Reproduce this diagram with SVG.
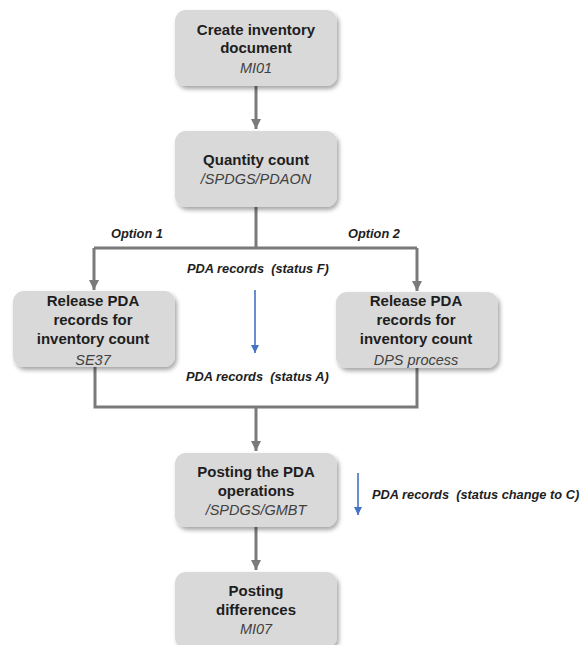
<svg xmlns="http://www.w3.org/2000/svg" width="584" height="645" viewBox="0 0 584 645">
<defs>
<style>
.box{fill:#d9d9d9;filter:url(#sh);}
.t{font-family:"Liberation Sans",Arial,sans-serif;font-size:15px;font-weight:bold;fill:#1e1e1e;text-anchor:middle;}
.s{font-family:"Liberation Sans",Arial,sans-serif;font-size:14.5px;font-style:italic;fill:#404040;text-anchor:middle;}
.l{font-family:"Liberation Sans",Arial,sans-serif;font-size:12.8px;font-weight:bold;font-style:italic;fill:#1e1e1e;}
.c{fill:none;stroke:#7a7a7a;stroke-width:3;}
</style>
<filter id="sh" x="-10%" y="-10%" width="125%" height="130%">
<feDropShadow dx="2" dy="3" stdDeviation="2" flood-color="#000" flood-opacity="0.35"/>
</filter>
<marker id="g" markerWidth="10" markerHeight="10" refX="10" refY="5" orient="auto" markerUnits="userSpaceOnUse">
<path d="M0,0 L10,5 L0,10 Z" fill="#7a7a7a"/>
</marker>
<marker id="bm" markerWidth="8" markerHeight="8" refX="8" refY="4" orient="auto" markerUnits="userSpaceOnUse">
<path d="M0,0 L8,4 L0,8 Z" fill="#4472c4"/>
</marker>
</defs>
<rect width="584" height="645" fill="#ffffff"/>

<g id="connectors">
<path class="c" d="M256,86 V129" marker-end="url(#g)"/>
<path class="c" d="M256,207 V248 M94,248 H417"/>
<path class="c" d="M94,248 V290" marker-end="url(#g)"/>
<path class="c" d="M417,248 V291" marker-end="url(#g)"/>
<path class="c" d="M95,367 V407 H417 V368"/>
<path class="c" d="M256,407 V451" marker-end="url(#g)"/>
<path class="c" d="M256,527 V570" marker-end="url(#g)"/>
<path d="M255,290 V353" stroke="#4472c4" stroke-opacity="0.8" stroke-width="2" fill="none" marker-end="url(#bm)"/>
<path d="M358,473 V515" stroke="#4472c4" stroke-opacity="0.8" stroke-width="2" fill="none" marker-end="url(#bm)"/>
<text class="l" x="111" y="238">Option 1</text>
<text class="l" x="348" y="238">Option 2</text>
<text class="l" x="187" y="273" xml:space="preserve">PDA records  (status F)</text>
<text class="l" x="186" y="381" xml:space="preserve">PDA records  (status A)</text>
<text class="l" x="372" y="499" xml:space="preserve">PDA records  (status change to C)</text>
</g>

<g id="n1">
<rect class="box" x="175" y="10" width="162" height="76" rx="11"/>
<text class="t" x="256" y="35">Create inventory</text>
<text class="t" x="256" y="53">document</text>
<text class="s" x="256" y="73">MI01</text>
</g>

<g id="n2">
<rect class="box" x="175" y="131" width="162" height="76" rx="11"/>
<text class="t" x="256" y="165">Quantity count</text>
<text class="s" x="256" y="184">/SPDGS/PDAON</text>
</g>

<g id="n3">
<rect class="box" x="13" y="291" width="162" height="76" rx="11"/>
<text class="t" x="93" y="306">Release PDA</text>
<text class="t" x="93" y="325">records for</text>
<text class="t" x="93" y="344">inventory count</text>
<text class="s" x="93" y="365">SE37</text>
</g>

<g id="n4">
<rect class="box" x="336" y="292" width="162" height="76" rx="11"/>
<text class="t" x="416" y="306">Release PDA</text>
<text class="t" x="416" y="325">records for</text>
<text class="t" x="416" y="344">inventory count</text>
<text class="s" x="416" y="365">DPS process</text>
</g>

<g id="n5">
<rect class="box" x="175" y="453" width="162" height="74" rx="11"/>
<text class="t" x="256" y="477">Posting the PDA</text>
<text class="t" x="256" y="496">operations</text>
<text class="s" x="256" y="515">/SPDGS/GMBT</text>
</g>

<g id="n6">
<rect class="box" x="175" y="572" width="162" height="76" rx="11"/>
<text class="t" x="256" y="596">Posting</text>
<text class="t" x="256" y="615">differences</text>
<text class="s" x="256" y="634">MI07</text>
</g>
</svg>
